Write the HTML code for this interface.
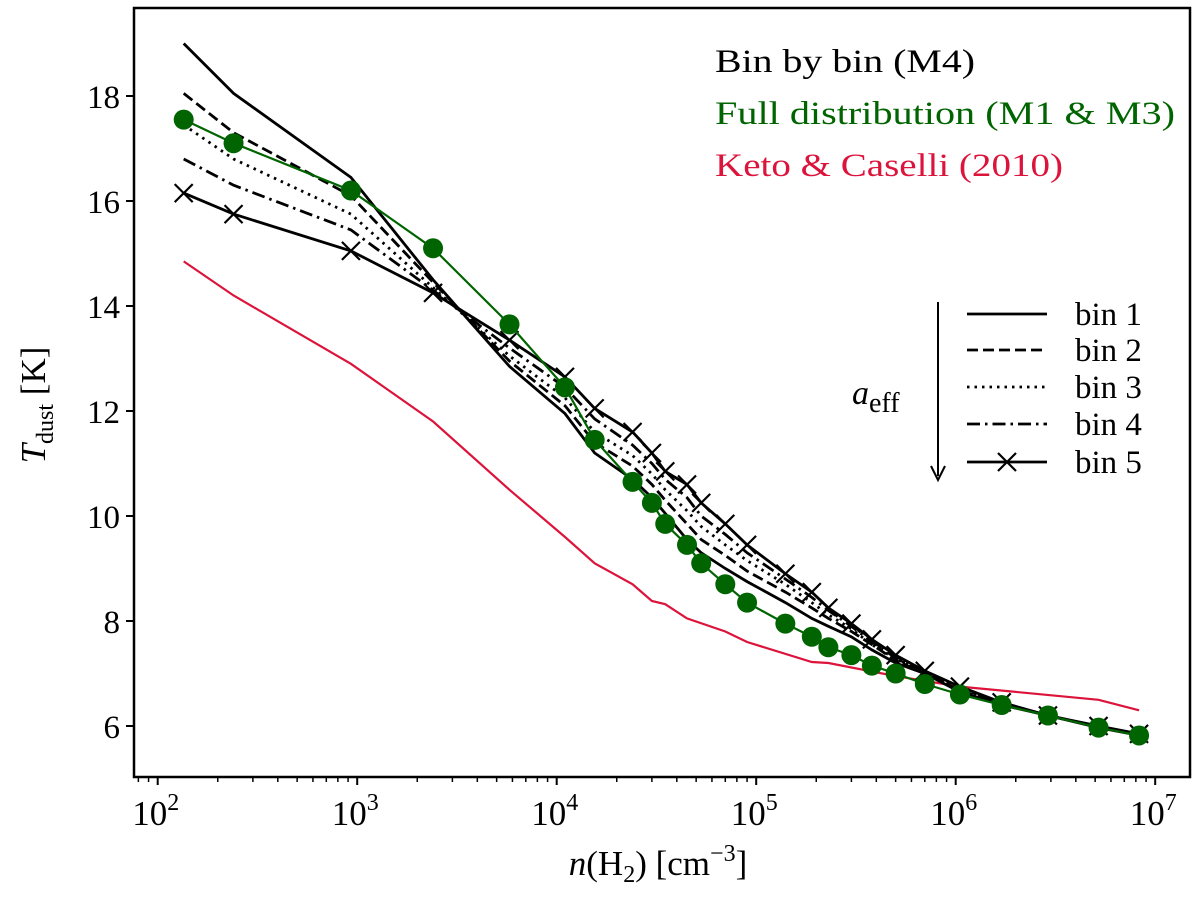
<!DOCTYPE html>
<html><head><meta charset="utf-8"><style>
body{margin:0;background:#fff}
svg{font-family:"Liberation Serif",serif}
</style></head><body>
<svg id="chart" width="1200" height="898" viewBox="0 0 1200 898">
<rect x="0" y="0" width="1200" height="898" fill="#fff"/>
<g id="marks"></g>
<g id="axes"></g>
<g id="legend">
<text x="715" y="72" font-size="33" fill="#000" textLength="260" lengthAdjust="spacingAndGlyphs">Bin by bin (M4)</text>
<text x="715" y="124" font-size="33" fill="#006400" textLength="460" lengthAdjust="spacingAndGlyphs">Full distribution (M1 &amp; M3)</text>
<text x="715" y="176" font-size="33" fill="#dc143c" textLength="348" lengthAdjust="spacingAndGlyphs">Keto &amp; Caselli (2010)</text>
<line x1="938" y1="302" x2="938" y2="476" stroke="#000" stroke-width="2"/>
<path d="M931 466 L938 480 L945 466" fill="none" stroke="#000" stroke-width="2"/>
<text x="852" y="404" font-size="34" font-style="italic">a<tspan font-style="normal" font-size="28" dy="8">eff</tspan></text>
</g>
</svg>
<script>
const xs = [135,240,930,2400,5800,11000,15500,24000,30000,35000,45000,53000,70000,90000,140000,190000,230000,300000,380000,500000,700000,1050000,1700000,2900000,5200000,8300000];
const green = [17.55,17.1,16.2,15.1,13.65,12.45,11.45,10.65,10.25,9.85,9.45,9.1,8.7,8.35,7.95,7.7,7.5,7.35,7.15,7.0,6.8,6.6,6.4,6.2,5.97,5.82];
const bin1 = [19.0,18.05,16.45,14.5,12.85,11.95,11.2,10.7,10.35,10.05,9.55,9.3,9.0,8.75,8.35,8.05,7.9,7.7,7.45,7.2,7.0,6.65,6.4,6.2,5.97,5.82];
const bin2 = [18.05,17.3,16.1,14.45,12.95,12.1,11.4,10.95,10.6,10.3,9.85,9.55,9.25,8.95,8.55,8.25,8.05,7.8,7.55,7.25,7.0,6.68,6.42,6.2,5.98,5.83];
const bin3 = [17.45,16.8,15.75,14.35,13.05,12.25,11.6,11.15,10.8,10.5,10.1,9.8,9.45,9.15,8.7,8.35,8.12,7.85,7.55,7.28,7.02,6.7,6.43,6.2,5.98,5.83];
const bin4 = [16.8,16.3,15.45,14.3,13.2,12.45,11.85,11.35,11.0,10.7,10.35,10.0,9.65,9.3,8.8,8.45,8.2,7.9,7.6,7.3,7.03,6.72,6.44,6.2,5.99,5.84];
const bin5 = [16.15,15.75,15.05,14.25,13.35,12.65,12.05,11.6,11.2,10.85,10.6,10.25,9.85,9.45,8.9,8.55,8.25,7.95,7.65,7.35,7.05,6.75,6.45,6.2,6.0,5.85];
const redX = [135,240,930,2400,5800,11000,15500,24000,30000,35000,45000,70000,90000,190000,230000,500000,1050000,5200000,8300000];
const red = [14.85,14.2,12.9,11.8,10.5,9.6,9.1,8.7,8.38,8.32,8.05,7.8,7.6,7.22,7.2,6.95,6.75,6.5,6.3];
const yTicks = [6,8,10,12,14,16,18];
const xDecades = [2,3,4,5,6,7];

const L=134,R=1190,T=8,B=777;
const X = n => 157.7 + 199.5*(Math.log10(n)-2);
const Y = t => 96 + (18-t)*52.5;
const NS="http://www.w3.org/2000/svg";
const marks=document.getElementById('marks'), axes=document.getElementById('axes');
function mk(tag,attrs,parent){const e=document.createElementNS(NS,tag);for(const k in attrs)e.setAttribute(k,attrs[k]);parent.appendChild(e);return e;}
function pts(xv,yv){return xv.map((x,i)=>X(x).toFixed(1)+','+Y(yv[i]).toFixed(1)).join(' ');}

let e;
e=mk('polyline',{points:pts(redX,red),fill:'none',stroke:'#dc143c','stroke-width':2.2},marks);


const styles=[['bin-1',bin1,''],['bin-2',bin2,'11,5'],['bin-3',bin3,'2.5,5'],['bin-4',bin4,'13,5,2.5,5'],['bin-5',bin5,'']];
styles.forEach(s=>{
  const a={points:pts(xs,s[1]),fill:'none',stroke:'#000','stroke-width':2.8};
  if(s[2])a['stroke-dasharray']=s[2];
  e=mk('polyline',a,marks);
  
  
});
xs.forEach((x,i)=>{
  const cx=X(x),cy=Y(bin5[i]);
  e=mk('path',{d:`M${cx-9} ${cy-9}L${cx+9} ${cy+9}M${cx-9} ${cy+9}L${cx+9} ${cy-9}`,stroke:'#000','stroke-width':2.2},marks);
  
  
});
e=mk('polyline',{points:pts(xs,green),fill:'none',stroke:'#006400','stroke-width':2.2},marks);


xs.forEach((x,i)=>{
  e=mk('circle',{cx:X(x),cy:Y(green[i]),r:10,fill:'#006400'},marks);
  
  
});

e=mk('rect',{x:L,y:T,width:R-L,height:B-T,fill:'none',stroke:'#000','stroke-width':2.5},axes);


yTicks.forEach(t=>{
  mk('line',{x1:L-8,x2:L,y1:Y(t),y2:Y(t),stroke:'#000','stroke-width':2},axes);
  e=mk('text',{x:L-14,y:Y(t)+12,'font-size':33,'text-anchor':'end'},axes);
  e.textContent=t;
  
  
});
xDecades.forEach(d=>{
  const x=X(Math.pow(10,d));
  mk('line',{x1:x,x2:x,y1:B,y2:B+8,stroke:'#000','stroke-width':2},axes);
  if(d<7)for(let m=2;m<10;m++){const xm=X(m*Math.pow(10,d));mk('line',{x1:xm,x2:xm,y1:B,y2:B+5,stroke:'#000','stroke-width':1.5},axes);}
  e=mk('text',{x:x-2,y:B+48,'font-size':35,'text-anchor':'middle'},axes);
  e.innerHTML='10<tspan font-size="24" dy="-15">'+d+'</tspan>';
  
  
});
for(let m=2;m<10;m++){const xm=X(m*10);if(xm>L)mk('line',{x1:xm,x2:xm,y1:B,y2:B+5,stroke:'#000','stroke-width':1.5},axes);}
e=mk('text',{x:658,y:875,'font-size':35,'text-anchor':'middle'},axes);
e.innerHTML='<tspan font-style="italic">n</tspan>(H<tspan font-size="24" dy="7">2</tspan><tspan dy="-7">) [cm</tspan><tspan font-size="24" dy="-14">−3</tspan><tspan dy="14">]</tspan>';


e=mk('text',{x:0,y:0,'font-size':35,'text-anchor':'middle',transform:'translate(45,405) rotate(-90)'},axes);
e.innerHTML='<tspan font-style="italic">T</tspan><tspan font-size="24" dy="8">dust</tspan><tspan dy="-8"> [K]</tspan>';



const lg=document.getElementById('legend');
const ly=[314,350,387,424,462];
styles.forEach((s,i)=>{
  const a={x1:967,x2:1047,y1:ly[i],y2:ly[i],stroke:'#000','stroke-width':2.8};
  if(s[2])a['stroke-dasharray']=s[2];
  e=mk('line',a,lg);
  
  
  e=mk('text',{x:1075,y:ly[i]+11,'font-size':33},lg);
  e.textContent='bin '+(i+1);
  
  
});
mk('path',{d:'M998 453L1016 471M998 471L1016 453',stroke:'#000','stroke-width':2.2},lg);
</script>
</body></html>
